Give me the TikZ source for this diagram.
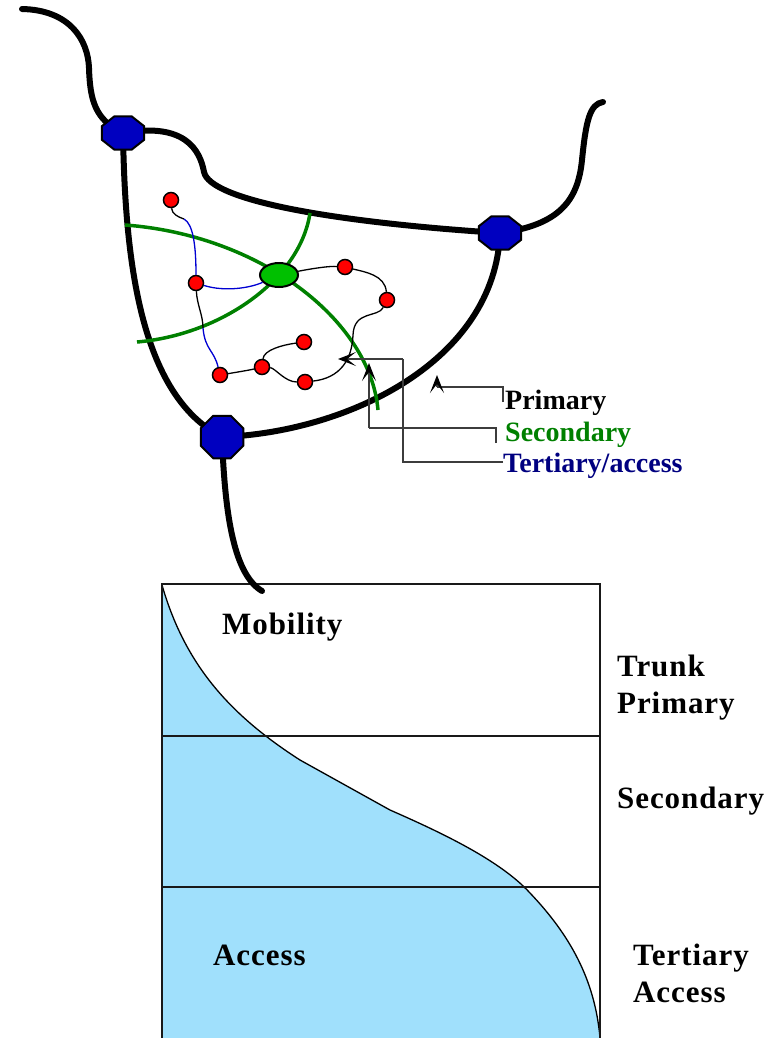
\documentclass[tikz,border=0pt]{standalone}
\usepackage{fontspec}
\setmainfont{Liberation Serif}
\usetikzlibrary{shapes.geometric,arrows.meta}
\definecolor{octblue}{RGB}{0,0,192}
\definecolor{secgreen}{RGB}{0,128,0}
\definecolor{hubgreen}{RGB}{0,192,0}
\definecolor{wireblue}{RGB}{0,0,210}
\definecolor{navytext}{RGB}{0,0,128}
\definecolor{skyfill}{RGB}{160,224,252}
\definecolor{leadgray}{RGB}{60,60,60}
\begin{document}
\begin{tikzpicture}[x=1pt,y=-1pt,
  road/.style={line width=6pt,line cap=round,black},
  secline/.style={line width=3.5pt,secgreen},
  wire/.style={line width=1.3pt,black},
  bwire/.style={line width=1.3pt,wireblue},
  lead/.style={line width=1.3pt,leadgray},
  legtip/.style={-{Stealth[length=18pt,width=14pt,inset=9pt,black]}},
  oct/.style={regular polygon,regular polygon sides=8,minimum size=45.5pt,
    fill=octblue,draw=black,line width=2pt,inner sep=0pt},
  dot/.style={circle,fill=red,draw=black,line width=1.5pt,minimum size=15pt,inner sep=0pt},
  hub/.style={ellipse,fill=hubgreen,draw=black,line width=2pt,minimum width=38pt,minimum height=24pt,inner sep=0pt},
  lab/.style={font=\fontsize{28}{30}\selectfont\bfseries,inner sep=0pt,anchor=base west},
  blab/.style={font=\fontsize{31}{33}\selectfont\bfseries\addfontfeature{LetterSpace=3},inner sep=0pt,anchor=base west},
  frame/.style={line width=1.3pt,black!90}]
\useasboundingbox (0,0) rectangle (782,1038);

% ---------- lower chart ----------
\coordinate (f0) at (162,585);
\coordinate (f1) at (600,1038);
\coordinate (f2) at (162,1038);
\fill[skyfill] (f0) .. controls (185,665) and (230,715) .. (300,760) -- (390,810)
  .. controls (440,832) and (500,860) .. (530,893) .. controls (570,935) and (595,980) .. (f1) -- (f2) -- cycle;
\draw[line width=1.3pt] (f0) .. controls (185,665) and (230,715) .. (300,760) -- (390,810)
  .. controls (440,832) and (500,860) .. (530,893) .. controls (570,935) and (595,980) .. (f1);
\coordinate (r1) at (162,584);
\coordinate (r2) at (600,584);
\draw[frame] (f2) -- (r1) -- (r2) -- (f1);
\coordinate (h1a) at (162,736); \coordinate (h1b) at (600,736);
\coordinate (h2a) at (162,887); \coordinate (h2b) at (600,887);
\draw[frame] (h1a) -- (h1b);
\draw[frame] (h2a) -- (h2b);

\node[blab] (mob) at (222,634) {Mobility};
\node[blab] (acc) at (213,965) {Access};
\node[blab] (trunk) at (617,676) {Trunk};
\node[blab] (prim2) at (617,713) {Primary};
\node[blab] (sec2) at (617,808) {Secondary};
\node[blab] (ter2) at (633,965) {Tertiary};
\node[blab] (acc2) at (633,1002) {Access};

% ---------- road network ----------
\coordinate (c1) at (123,133);
\coordinate (c2) at (500,233);
\coordinate (c3) at (222,437);
\coordinate (e1) at (22,9);
\coordinate (e2) at (603,102);
\coordinate (e3) at (262,591);

\draw[road] (e1) .. controls (70,10) and (88,40) .. (89,68) .. controls (90,100) and (95,120) .. (c1);
\draw[road] (c1) .. controls (185,122) and (200,150) .. (204,172) .. controls (210,200) and (330,222) .. (c2);
\draw[road] (c2) .. controls (560,225) and (578,200) .. (582,160) .. controls (586,120) and (590,104) .. (e2);
\draw[road] (c1) .. controls (125,260) and (140,395) .. (c3);
\draw[road] (c3) .. controls (350,432) and (495,360) .. (c2);
\draw[road] (c3) .. controls (225,520) and (235,575) .. (e3);

% secondary arcs
\coordinate (g1) at (125,225);
\coordinate (g2) at (378,410);
\coordinate (g3) at (137,342);
\coordinate (g4) at (310,213);
\draw[secline] (g1) .. controls (260,235) and (370,320) .. (g2);
\draw[secline] (g3) .. controls (220,335) and (300,280) .. (g4);

% dots and hub
\node[hub] (hub) at (279,275) {};
\node[dot] (d1) at (171,200) {};
\node[dot] (d2) at (196,283) {};
\node[dot] (d3) at (345,267) {};
\node[dot] (d4) at (387,300) {};
\node[dot] (d5) at (304,342) {};
\node[dot] (d6) at (262,367) {};
\node[dot] (d7) at (220,375) {};
\node[dot] (d8) at (305,382) {};

% access wires
\coordinate (b1) at (184,219);
\coordinate (b2) at (203,328);
\draw[wire] (d1) .. controls (172,214) and (178,217) .. (b1);
\draw[bwire] (b1) .. controls (193,224) and (196,245) .. (d2);
\draw[bwire] (d2) .. controls (225,292) and (250,288) .. (hub);
\draw[wire] (d2) .. controls (197,305) and (203,315) .. (b2);
\draw[bwire] (b2) .. controls (205,350) and (214,350) .. (d7);
\draw[wire] (d7) .. controls (238,372) and (250,370) .. (d6);
\draw[wire] (d6) .. controls (264,350) and (282,345) .. (d5);
\draw[wire] (d6) .. controls (275,368) and (285,382) .. (d8);
\draw[wire] (d8) .. controls (340,378) and (352,360) .. (353,335) .. controls (354,310) and (378,318) .. (d4);
\draw[wire] (hub) .. controls (315,268) and (330,266) .. (d3);
\draw[wire] (d3) .. controls (365,272) and (385,275) .. (d4);

% junction nodes
\node[oct,yscale=0.79,transform shape] (n1) at (c1) {};
\node[oct,yscale=0.79,transform shape] (n2) at (c2) {};
\node[oct,minimum size=46pt] (n3) at (c3) {};

% ---------- legend ----------
\node[lab] (lp) at (505,409) {Primary};
\node[lab,text=secgreen] (ls) at (505,441) {Secondary};
\node[lab,text=navytext] (lt) at (503,472) {Tertiary/access};
\coordinate (pe) at (503,402); \coordinate (pt) at (437,375);
\coordinate (se) at (496,443); \coordinate (st) at (369,363);
\coordinate (te) at (503,462); \coordinate (tt) at (338,359);
\coordinate (pk) at (437,387); \coordinate (sk) at (369,428);
\coordinate (tk1) at (403,462); \coordinate (tk2) at (403,359);
\draw[lead] (pe) -- (503,387) -- (pk);
\draw[lead,legtip] (pk) -- (pt);
\draw[lead] (se) -- (496,428) -- (sk);
\draw[lead,legtip] (sk) -- (st);
\draw[lead] (te) -- (tk1) -- (tk2);
\draw[lead,legtip] (tk2) -- (tt);
\end{tikzpicture}
\end{document}
